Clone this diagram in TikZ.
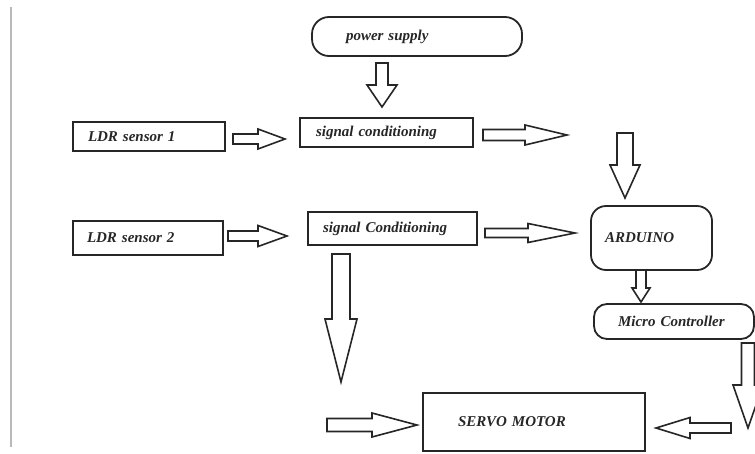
\documentclass[tikz,border=0pt]{standalone}
\usepackage{fontspec}
\setmainfont{Liberation Serif}
\usetikzlibrary{calc}

\newcommand{\fatarrow}[5]{%
  \coordinate (fa-h) at ($(#2)!#5!(#1)$);
  \draw [blockarrow] ($(#1)!#3!90:(#2)$) -- ($(fa-h)!#3!90:(#2)$) -- ($(fa-h)!#4!90:(#2)$) -- (#2)
    -- ($(fa-h)!#4!-90:(#2)$) -- ($(fa-h)!#3!-90:(#2)$) -- ($(#1)!#3!-90:(#2)$) -- cycle;}

\begin{document}
\begin{tikzpicture}[x=1pt, y=-1pt,
	block/.style={draw=black!85, line width=1.8pt, align=left, inner ysep=0pt,
		font=\fontsize{15}{17}\selectfont\bfseries\itshape, text=black!85},
	rblock/.style={block, rounded corners=#1},
	blockarrow/.style={draw=black!85, line width=1.6pt, fill=white, line join=miter}]
		\useasboundingbox (0,0) rectangle (755,453);
		%\draw [help lines, step=50] (0,0) grid (755,453);
		%Margine
		\draw [gray!55, line width=1.5pt] (11,7) -- (11,447);
		%Blocchi
		\node [rblock=17pt, text width=142pt, inner xsep=34pt, minimum height=39pt] (pwr) at (417,36.5) {power supply};
		\node [block, text width=122pt, inner xsep=15pt, minimum height=29pt] (ldra) at (149,136.5) {LDR sensor 1};
		\node [block, text width=141pt, inner xsep=16pt, minimum height=29pt] (sca) at (386.5,132.5) {signal conditioning};
		\node [block, text width=122pt, inner xsep=14pt, minimum height=34pt] (ldrb) at (148,238) {LDR sensor 2};
		\node [block, text width=139pt, inner xsep=15pt, minimum height=33pt] (scb) at (392.5,228.5) {signal Conditioning};
		\node [rblock=15pt, text width=93pt, inner xsep=14pt, minimum height=64pt] (ard) at (651.5,238) {ARDUINO};
		\node [rblock=13pt, text width=112pt, inner xsep=24pt, minimum height=35pt] (mc) at (674,321.5) {Micro Controller};
		\node [block, text width=152pt, inner xsep=35pt, minimum height=58pt] (servo) at (534,422) {SERVO MOTOR};
		%Estremi delle frecce
		\coordinate (pwr-s) at (382,63);   \coordinate (sca-n) at (382,107);
		\coordinate (ldra-e) at (233,139); \coordinate (sca-w) at (285,139);
		\coordinate (sca-e) at (483,135);  \coordinate (sca-x) at (567,135);
		\coordinate (ard-in) at (625,133); \coordinate (ard-n) at (625,198);
		\coordinate (ldrb-e) at (228,236); \coordinate (scb-w) at (287,236);
		\coordinate (scb-e) at (485,233);  \coordinate (ard-w) at (575,233);
		\coordinate (scb-s) at (341,254);  \coordinate (scb-x) at (341,382);
		\coordinate (ard-s) at (641,270);  \coordinate (mc-n) at (641,302);
		\coordinate (mc-s) at (748,343);   \coordinate (mc-x) at (748,428);
		\coordinate (servo-l) at (327,425); \coordinate (servo-w) at (417,425);
		\coordinate (servo-r) at (731,428); \coordinate (servo-e) at (656,428);
		%Frecce
		\fatarrow{pwr-s}{sca-n}{6pt}{15pt}{22pt}
		\fatarrow{ldra-e}{sca-w}{5pt}{10pt}{27pt}
		\fatarrow{sca-e}{sca-x}{5.5pt}{10pt}{42pt}
		\fatarrow{ard-in}{ard-n}{8pt}{15pt}{33pt}
		\fatarrow{ldrb-e}{scb-w}{5pt}{10.5pt}{29pt}
		\fatarrow{scb-e}{ard-w}{4.5pt}{9.5pt}{47pt}
		\fatarrow{scb-s}{scb-x}{9pt}{16pt}{63pt}
		\fatarrow{ard-s}{mc-n}{5pt}{9pt}{14pt}
		\fatarrow{mc-s}{mc-x}{6.5pt}{15pt}{43pt}
		\fatarrow{servo-l}{servo-w}{6.5pt}{12pt}{45pt}
		\fatarrow{servo-r}{servo-e}{5pt}{10.5pt}{34pt}
	\end{tikzpicture}
\end{document}
